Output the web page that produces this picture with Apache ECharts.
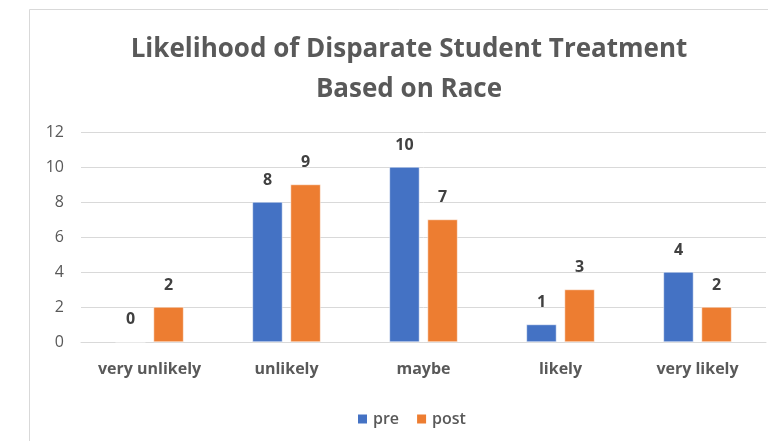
<!DOCTYPE html>
<html>
<head>
<meta charset="utf-8">
<script src="https://cdn.jsdelivr.net/npm/echarts@6/dist/echarts.min.js"></script>
<style>
  html, body { margin: 0; padding: 0; background: #fff; }
  #chart { width: 768px; height: 441px; }
</style>
</head>
<body>
<div id="chart"></div>
<script>
// Survey responses, before and after
const categories = ['very unlikely', 'unlikely', 'maybe', 'likely', 'very likely'];
const preValues = [0, 8, 10, 1, 4];
const postValues = [2, 9, 7, 3, 2];
const seriesNames = ['pre', 'post'];
const titleLines = ['Likelihood of Disparate Student Treatment', 'Based on Race'];

const FONT = '"Open Sans", "Noto Sans", sans-serif';
const chart = echarts.init(document.getElementById('chart'), null, { renderer: 'canvas' });

const labelStyle = {
  show: true,
  position: 'top',
  distance: 14,
  fontFamily: FONT,
  fontSize: 16,
  fontWeight: 'bold',
  color: '#404040'
};

chart.setOption({
  animation: false,
  backgroundColor: '#ffffff',
  graphic: [{
    type: 'rect',
    shape: { x: 29.5, y: 9.5, width: 800, height: 500 },
    style: { fill: 'none', stroke: '#d9d9d9', lineWidth: 1 },
    silent: true
  }],
  title: {
    text: titleLines.join('\n'),
    left: 404,
    top: 25,
    textAlign: 'center',
    textStyle: {
      fontFamily: FONT,
      fontSize: 26,
      fontWeight: 'bold',
      color: '#595959',
      lineHeight: 40
    }
  },
  legend: {
    data: seriesNames,
    left: 351,
    top: 406,
    itemWidth: 11,
    itemHeight: 11,
    itemGap: 16,
    icon: 'rect',
    textStyle: { fontFamily: FONT, fontSize: 16, fontWeight: 600, color: '#595959' }
  },
  grid: { left: 81, right: 2, top: 132, bottom: 99, containLabel: false },
  xAxis: {
    type: 'category',
    data: categories,
    axisLine: { lineStyle: { color: '#d9d9d9' } },
    axisTick: { show: false },
    axisLabel: {
      margin: 19,
      fontFamily: FONT,
      fontSize: 16,
      fontWeight: 'bold',
      color: '#595959'
    }
  },
  yAxis: {
    type: 'value',
    min: 0,
    max: 12,
    interval: 2,
    axisLine: { show: false },
    axisTick: { show: false },
    splitLine: { lineStyle: { color: '#d9d9d9' } },
    axisLabel: { margin: 17, fontFamily: FONT, fontSize: 16, color: '#595959' }
  },
  series: [
    {
      name: seriesNames[0],
      type: 'bar',
      data: preValues,
      barWidth: 30,
      barGap: '27%',
      itemStyle: { color: '#4472c4', borderColor: '#ffffff', borderWidth: 0.5 },
      label: labelStyle
    },
    {
      name: seriesNames[1],
      type: 'bar',
      data: postValues,
      barWidth: 30,
      itemStyle: { color: '#ed7d31', borderColor: '#ffffff', borderWidth: 0.5 },
      label: labelStyle
    }
  ]
});
</script>
</body>
</html>
